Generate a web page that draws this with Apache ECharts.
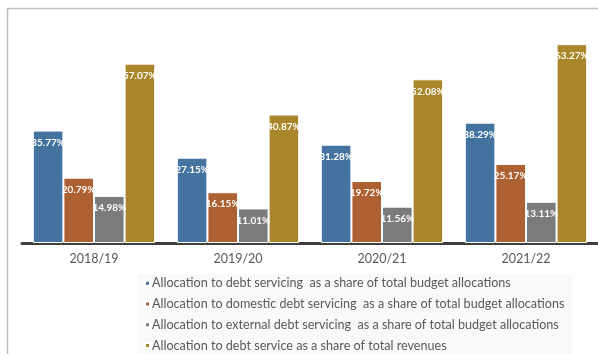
<!DOCTYPE html>
<html><head><meta charset="utf-8">
<script src="https://cdn.jsdelivr.net/npm/echarts@6/dist/echarts.min.js"></script>
<style>html,body{margin:0;padding:0;background:#fff}#c{width:598px;height:354px}</style>
</head><body><div id="c"></div>
<script>
const categories = ['2018/19', '2019/20', '2020/21', '2021/22'];
const seriesNames = [
  'Allocation to debt servicing  as a share of total budget allocations',
  'Allocation to domestic debt servicing  as a share of total budget allocations',
  'Allocation to external debt servicing  as a share of total budget allocations',
  'Allocation to debt service as a share of total revenues'
];
const debtServicing = [35.77, 27.15, 31.28, 38.29];
const domesticDebt = [20.79, 16.15, 19.72, 25.17];
const externalDebt = [14.98, 11.01, 11.56, 13.11];
const shareRevenues = [57.07, 40.87, 52.08, 63.27];
const colors = ['#44739F', '#AD6132', '#7B7B7B', '#A88629'];

const values = [debtServicing, domesticDebt, externalDebt, shareRevenues];
const chart = echarts.init(document.getElementById('c'), null, {renderer: 'canvas'});
chart.setOption({
  animation: false,
  backgroundColor: '#fff',
  textStyle: {fontFamily: 'Lato'},
  grid: {left: 22, right: 0, top: 23, bottom: 111},
  xAxis: {
    type: 'category', data: categories, offset: 2,
    axisLine: {lineStyle: {color: '#404040', width: 3}},
    axisTick: {show: false},
    axisLabel: {color: '#595959', fontSize: 12.5, margin: 7, fontFamily: 'Lato'}
  },
  yAxis: {type: 'value', min: 0, max: 70, show: false, splitLine: {show: false}},
  legend: {
    orient: 'vertical', left: 138, top: 274, height: 100,
    backgroundColor: '#f9f9f9', padding: [2, 8, 4, 6],
    itemWidth: 5, itemHeight: 5, itemGap: 6,
    icon: 'rect',
    textStyle: {color: '#595959', fontSize: 12.6, lineHeight: 14.7, fontFamily: 'Lato', padding: [0, 0, 0, -3]},
    data: seriesNames
  },
  graphic: [{
    type: 'polyline', silent: true,
    shape: {points: [[7.5, 354], [7.5, 8.5], [598, 8.5]]},
    style: {stroke: '#c0c0c0', lineWidth: 1.5, fill: null}
  }],
  series: values.map((v, i) => ({
    name: seriesNames[i], type: 'bar', data: v,
    barGap: '0%', barCategoryGap: '15%',
    itemStyle: {color: colors[i], borderColor: '#ffffff', borderWidth: 1},
    label: {
      show: true, position: 'insideTop', distance: 7,
      color: '#ffffff', fontWeight: 'bold', fontSize: 10, fontFamily: 'Lato',
      formatter: p => p.value.toFixed(2) + '%'
    }
  }))
});
</script></body></html>
